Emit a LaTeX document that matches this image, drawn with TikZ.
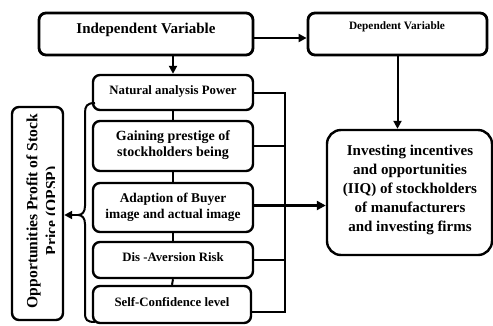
\documentclass[tikz,border=0pt]{standalone}
\usepackage{fontspec}
\setmainfont{Liberation Serif}
\usetikzlibrary{arrows.meta}
\begin{document}
\begin{tikzpicture}[x=1pt,y=-1pt,
  box/.style={draw, line width=2.4pt, rounded corners=7pt, inner sep=0pt, align=center},
  boxtxt/.style={inner sep=0pt, align=center, font=\bfseries\fontsize{12.8}{16}\selectfont},
  conn/.style={line width=2pt},
  arr/.style={line width=2pt, -{Triangle[length=8pt,width=8pt]}},
  bigarr/.style={line width=3pt, -{Triangle[length=9pt,width=9pt]}}]
\useasboundingbox (0,0) rectangle (493,325);
% top boxes
\node[box, line width=2.8pt, minimum width=214pt, minimum height=42pt] (indep) at (146,34) {};
\node[inner sep=0pt, font=\bfseries\fontsize{15}{18}\selectfont] (indeplabel) at (146,30) {Independent Variable};
\node[box, line width=2.8pt, minimum width=179pt, minimum height=42pt] (dep) at (397.5,34) {};
\node[inner sep=0pt, font=\bfseries\fontsize{11.3}{14}\selectfont] (deplabel) at (397,27) {Dependent Variable};
% left column of boxes
\node[box, minimum width=160pt, minimum height=35pt] (nat) at (173,92.5) {};
\node[boxtxt] (natlabel) at (173,91) {Natural analysis Power};
\node[box, minimum width=160pt, minimum height=50pt] (gain) at (173,146) {};
\node[boxtxt, font=\bfseries\fontsize{14}{16}\selectfont] (gainlabel) at (173,145) {Gaining prestige of\\stockholders being};
\node[box, minimum width=160pt, minimum height=49pt] (adapt) at (173,207.5) {};
\node[boxtxt, font=\bfseries\fontsize{13.4}{16}\selectfont] (adaptlabel) at (173,207) {Adaption of Buyer\\image and actual image};
\node[box, minimum width=160pt, minimum height=36pt] (dis) at (173,260) {};
\node[boxtxt] (dislabel) at (173,257) {Dis -Aversion Risk};
\node[box, minimum width=158pt, minimum height=37pt] (self) at (172,304.5) {};
\node[boxtxt] (selflabel) at (172,302) {Self-Confidence level};
% right result box
\node[box, rounded corners=14pt, minimum width=165pt, minimum height=125pt] (iiq) at (409.5,192.5) {};
\node[inner sep=0pt, align=center, font=\bfseries\fontsize{15}{19}\selectfont] (iiqlabel) at (410,190)
  {Investing incentives\\and opportunities\\(IIQ) of stockholders\\of manufacturers\\and investing firms};
% left OPSP box
\node[box, minimum width=51pt, minimum height=213pt] (opsp) at (37.5,213.5) {};
\begin{scope}
\clip (14,108) rectangle (54.5,318);
\node[inner sep=0pt, rotate=90, align=center, font=\bfseries\fontsize{15.6}{19}\selectfont] (opsplabel) at (43,211)
  {Opportunities Profit of Stock\\Price (OPSP)};
\end{scope}
% connectors
\draw[arr] (nat.north |- indep.south) -- (nat.north);
\draw[arr] ([yshift=-4pt]indep.east) -- ([yshift=-4pt]dep.west);
\draw[arr] (dep.south) -- (dep.south |- iiq.north);
\draw[conn] (nat.south) -- (gain.north);
\draw[conn] (gain.south) -- (adapt.north);
\draw[conn] (adapt.south) -- (dis.north);
\draw[conn] (dis.south) -- (self.north);
\coordinate (barx) at (285,0);
\coordinate (barbot) at (285,312);
\draw[conn] (nat.east) -- (nat.east -| barx) -- (barbot) -- (barbot -| self.east);
\draw[conn] (gain.east) -- (gain.east -| barx);
\draw[conn] (dis.east) -- (dis.east -| barx);
\draw[bigarr] ([yshift=2pt]adapt.east) -- ([yshift=2pt]adapt.east -| iiq.west);
% brace
\coordinate (bracetip) at (78,215);
\draw[conn] (95,103) .. controls (87,103) and (85,106) .. (85,113) -- (85,206)
  .. controls (85,212) and (82,215) .. (bracetip)
  .. controls (82,215) and (85,218) .. (85,224) -- (85,313)
  .. controls (85,320) and (87,322) .. (95,322);
\draw[arr] (bracetip) -- (bracetip -| opsp.east);
\end{tikzpicture}
\end{document}
